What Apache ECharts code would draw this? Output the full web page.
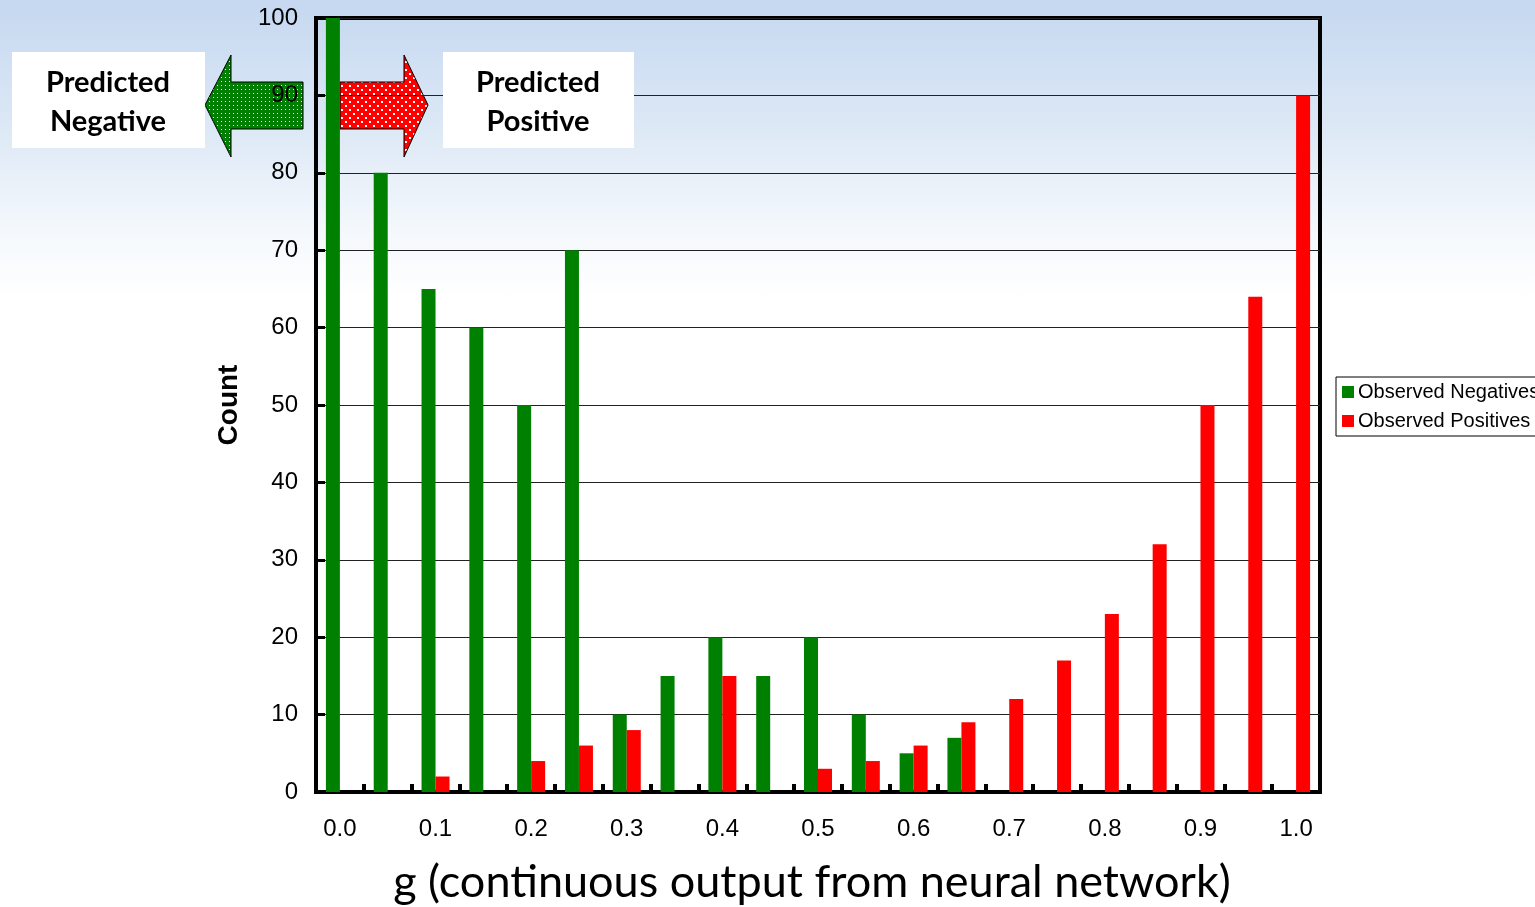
<!DOCTYPE html>
<html>
<head>
<meta charset="utf-8">
<script src="https://cdn.jsdelivr.net/npm/echarts@6/dist/echarts.min.js"></script>
<style>
html,body{margin:0;padding:0;width:1535px;height:907px;overflow:hidden;
background:linear-gradient(to bottom,#c5d8f0 0px,#dbe7f5 120px,#f4f8fc 230px,#ffffff 300px,#ffffff 907px);}
#chart{width:1535px;height:907px;}
</style>
</head>
<body>
<div id="chart"></div>
<script>
const categories = ['0.0','0.05','0.1','0.15','0.2','0.25','0.3','0.35','0.4','0.45','0.5','0.55','0.6','0.65','0.7','0.75','0.8','0.85','0.9','0.95','1.0'];
const observedNegatives = [100,80,65,60,50,70,10,15,20,15,20,10,5,7,0,0,0,0,0,0,0];
const observedPositives = [0,0,2,0,4,6,8,0,15,0,3,4,6,9,12,17,23,32,50,64,90];
const yTicks = {min:0, max:100, interval:10};

function makePattern(bg, size, dots){
  const c = document.createElement('canvas');
  c.width = size; c.height = size;
  const g = c.getContext('2d');
  g.fillStyle = bg; g.fillRect(0,0,size,size);
  g.fillStyle = '#ffffff';
  dots.forEach(d => g.fillRect(d[0],d[1],d[2],d[2]));
  return c;
}
const greenPat = makePattern('#008000', 4, [[1,1,1]]);
const redPat = makePattern('#ff0000', 8, [[1,1,2],[5,5,2]]);

const chart = echarts.init(document.getElementById('chart'), null, {renderer:'canvas'});
chart.setOption({
  backgroundColor: 'transparent',
  animation: false,
  grid: {left:316, right:215, top:18, bottom:115, show:true, borderColor:'#000', borderWidth:4, backgroundColor:'transparent', outerBoundsMode:'none', containLabel:false},
  legend: {
    orient:'vertical', left:1336, top:377,
    backgroundColor:'#fff', borderColor:'#000', borderWidth:1,
    padding:[5,6,5,6], itemGap:9, itemWidth:12, itemHeight:12,
    icon:'rect',
    textStyle:{fontFamily:'Liberation Sans, Arial', fontSize:20, color:'#000', padding:[0,0,0,-1]},
    data:['Observed Negatives','Observed Positives']
  },
  xAxis: {
    type:'category', data:categories, boundaryGap:true,
    name:'g (continuous output from neural network)', nameLocation:'middle', nameGap:68,
    nameTextStyle:{fontFamily:'Lato, Open Sans', fontSize:45, color:'#000', padding:[0,12,0,0]},
    axisLine:{lineStyle:{color:'#000', width:4}},
    axisTick:{show:true, inside:true, length:8, interval:0, lineStyle:{color:'#000', width:4}},
    axisLabel:{interval:1, margin:25, fontFamily:'Liberation Sans, Arial', fontSize:24, color:'#000'},
    splitLine:{show:false}
  },
  yAxis: {
    type:'value', min:yTicks.min, max:yTicks.max, interval:yTicks.interval,
    name:'Count', nameLocation:'middle', nameGap:73, nameRotate:90,
    nameTextStyle:{fontFamily:'Liberation Sans, Arial', fontSize:28, fontWeight:'bold', color:'#000'},
    axisLine:{show:true, lineStyle:{color:'#000', width:4}},
    axisTick:{show:true, inside:true, length:9, lineStyle:{color:'#000', width:3}},
    axisLabel:{margin:18, fontFamily:'Liberation Sans, Arial', fontSize:24, color:'#000'},
    splitLine:{show:true, lineStyle:{color:'#222', width:1}}
  },
  series: [
    {name:'Observed Negatives', type:'bar', data:observedNegatives, barWidth:14, barGap:'0%', itemStyle:{color:'#008000'}, z:3},
    {name:'Observed Positives', type:'bar', data:observedPositives, barWidth:14, barGap:'0%', itemStyle:{color:'#ff0000'}, z:3}
  ],
  graphic: [
    {type:'polygon', z:-5, shape:{points:[[205,105],[231,55],[231,82],[303,82],[303,129],[231,129],[231,157]]},
      style:{fill:{image:greenPat, repeat:'repeat'}, stroke:'#000', lineWidth:1}},
    {type:'polygon', z:-5, shape:{points:[[340,82],[404,82],[404,55],[428,105],[404,157],[404,129],[340,129]]},
      style:{fill:{image:redPat, repeat:'repeat'}, stroke:'#000', lineWidth:1}},
    {type:'rect', z:50, shape:{x:12,y:52,width:193,height:96}, style:{fill:'#fff'}},
    {type:'rect', z:50, shape:{x:443,y:52,width:191,height:96}, style:{fill:'#fff'}},
    {type:'text', z:51, x:108, y:102, style:{text:'Predicted\nNegative', fill:'#000', font:'bold 29px Lato, "Open Sans"', align:'center', verticalAlign:'middle', lineHeight:39}},
    {type:'text', z:51, x:538, y:102, style:{text:'Predicted\nPositive', fill:'#000', font:'bold 29px Lato, "Open Sans"', align:'center', verticalAlign:'middle', lineHeight:39}}
  ]
});
</script>
</body>
</html>
